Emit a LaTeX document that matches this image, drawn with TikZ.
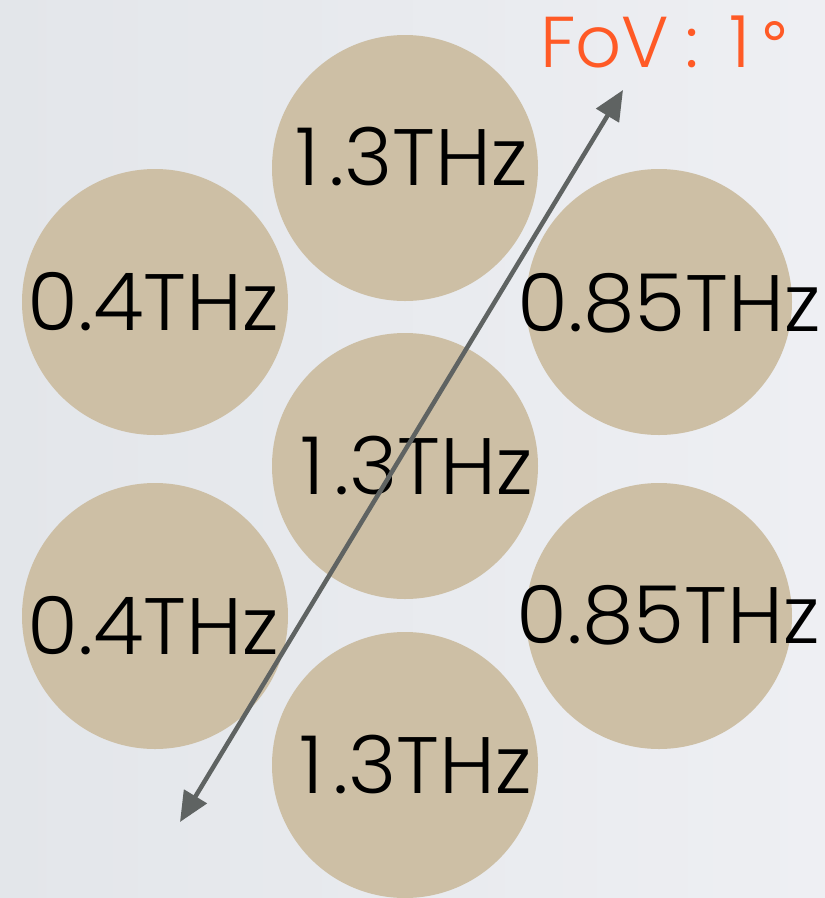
\documentclass[tikz,border=0pt]{standalone}
\usepackage{fontspec}
\setmainfont{Poppins}[UprightFont=* Light]
\newfontfamily\symfont{DejaVu Sans}
\usetikzlibrary{arrows.meta}
\definecolor{disc}{HTML}{CDBFA5}
\definecolor{bgleft}{HTML}{E3E6EA}
\definecolor{bgright}{HTML}{EEEFF3}
\definecolor{fovorange}{HTML}{FF5A26}
\definecolor{arrowgray}{HTML}{5F6362}
% a wider figure one, with room on both sides
\newcommand{\wideone}{\kern5pt 1\kern9pt}
\newcommand{\freqtext}[1]{\scalebox{1.03}[1]{#1}}
\tikzset{
  disk/.style={circle, fill=disc, inner sep=0pt, minimum size=266pt},
  freq/.style={font=\fontsize{80}{80}\selectfont, text=black, inner sep=0pt, anchor=base},
  fovlabel/.style={font=\fontsize{72}{72}\selectfont, text=fovorange, inner sep=0pt, anchor=base west},
  fovarrow/.style={draw=arrowgray, line width=4.5pt, {Triangle[length=30pt,width=26pt]}-{Triangle[length=30pt,width=26pt]}}
}
\begin{document}
\begin{tikzpicture}[x=1pt, y=-1pt]
  \useasboundingbox (0,0) rectangle (825,898);
  \clip (0,0) rectangle (825,898);
  \shade[left color=bgleft, right color=bgright] (0,0) rectangle (825,898);

  % feed horns
  \node[disk] (c13top) at (405,168) {};
  \node[disk] (c04top) at (155,302) {};
  \node[disk] (c085top) at (659,302) {};
  \node[disk] (c13mid) at (405,466) {};
  \node[disk] (c04bot) at (155,616) {};
  \node[disk] (c085bot) at (659,616) {};
  \node[disk] (c13bot) at (405,765) {};

  % frequency labels
  \node[freq] (t13top) at (409,185) {\freqtext{\wideone.3THz}};
  \node[freq] (t04top) at (153,330) {\freqtext{0.4THz}};
  \node[freq] (t085top) at (669,331) {\freqtext{0.85THz}};
  \node[freq] (t13mid) at (414,494) {\freqtext{\wideone.3THz}};
  \node[freq] (t04bot) at (153,654) {\freqtext{0.4THz}};
  \node[freq] (t085bot) at (668,643) {\freqtext{0.85THz}};
  \node[freq] (t13bot) at (413,793) {\freqtext{\wideone.3THz}};

  % field of view
  \coordinate (fovtop) at (623,90);
  \coordinate (fovbot) at (180,822);
  \draw[fovarrow] (fovbot) -- (fovtop);
  \node[fovlabel] (fov) at (540,67)
    {FoV\kern16pt:\kern26pt\wideone{\symfont\fontsize{62}{62}\selectfont °}};
\end{tikzpicture}
\end{document}
